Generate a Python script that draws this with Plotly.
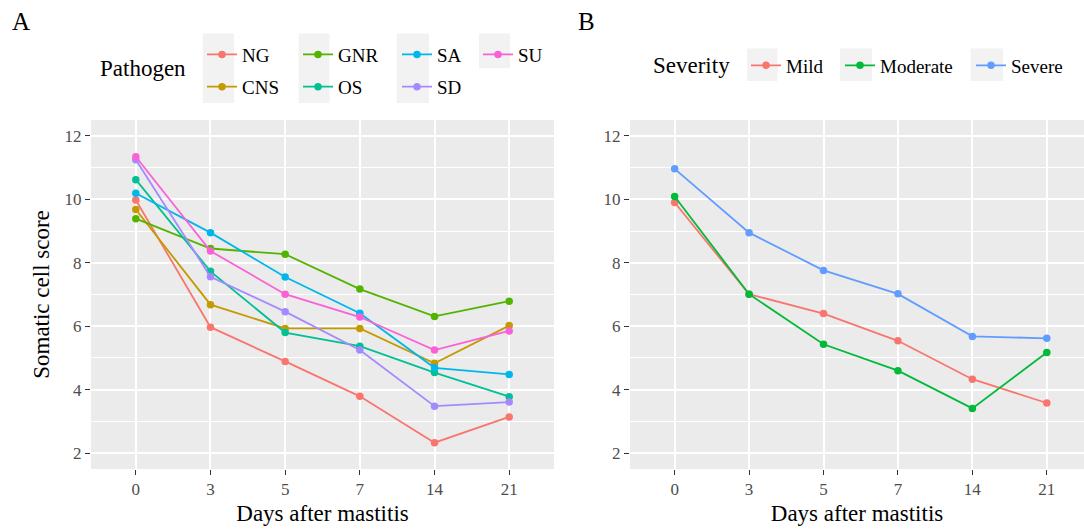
import plotly.graph_objects as go

# ---------------- data ----------------
days = ["0", "3", "5", "7", "14", "21"]

pathogens = ["NG", "CNS", "GNR", "OS", "SA", "SD", "SU"]
ng = [9.98, 5.97, 4.89, 3.79, 2.33, 3.14]
cns = [9.68, 6.68, 5.93, 5.93, 4.83, 6.02]
gnr = [9.39, 8.45, 8.27, 7.17, 6.31, 6.79]
os_ = [10.62, 7.73, 5.80, 5.37, 4.54, 3.78]
sa = [10.19, 8.95, 7.55, 6.41, 4.69, 4.48]
sd = [11.25, 7.56, 6.46, 5.25, 3.48, 3.61]
su = [11.34, 8.37, 7.01, 6.29, 5.25, 5.85]

severities = ["Mild", "Moderate", "Severe"]
mild = [9.90, 7.01, 6.40, 5.54, 4.33, 3.58]
moderate = [10.09, 7.01, 5.43, 4.60, 3.41, 5.17]
severe = [10.96, 8.95, 7.76, 7.02, 5.68, 5.62]

y_ticks = [2, 4, 6, 8, 10, 12]

# ---------------- style ----------------
FONT = "Liberation Serif, Times New Roman, serif"
W, H = 1084, 532
ML, MR, MT, MB = 91, 0, 120, 63
PW = W - ML - MR
PH = H - MT - MB


def xp(px):
    return (px - ML) / PW


def yp(py):
    return (H - MB - py) / PH


path_colors = ["#F8766D", "#C49A00", "#53B400", "#00C094", "#00B6EB", "#A58AFF", "#FB61D7"]
sev_colors = ["#F8766D", "#00BA38", "#619CFF"]
path_series = [ng, cns, gnr, os_, sa, sd, su]
sev_series = [mild, moderate, severe]

# legend slot positions (pixel origin of each legend item)
path_legend_px = [(202, 35.6), (202, 67.8), (298, 35.6), (298, 67.8),
                  (397, 35.6), (397, 67.8), (478, 35.6)]
sev_legend_px = [(746, 46.5), (840, 46.5), (971, 46.5)]

fig = go.Figure()

legend_layouts = {}
for i, (name, vals, col) in enumerate(zip(pathogens, path_series, path_colors)):
    lid = "legend" if i == 0 else f"legend{i + 1}"
    fig.add_trace(go.Scatter(
        x=days, y=vals, name=name, mode="lines+markers",
        line=dict(color=col, width=1.8), marker=dict(color=col, size=7.5),
        xaxis="x", yaxis="y", legend=lid))
    px_, py_ = path_legend_px[i]
    legend_layouts[lid] = (px_, py_)

for j, (name, vals, col) in enumerate(zip(severities, sev_series, sev_colors)):
    k = len(pathogens) + j + 1
    lid = f"legend{k}"
    fig.add_trace(go.Scatter(
        x=days, y=vals, name=name, mode="lines+markers",
        line=dict(color=col, width=1.8), marker=dict(color=col, size=7.5),
        xaxis="x2", yaxis="y2", legend=lid))
    legend_layouts[lid] = sev_legend_px[j]

layout_legends = {}
for lid, (px_, py_) in legend_layouts.items():
    layout_legends[lid] = dict(
        x=xp(px_), y=yp(py_), xanchor="left", yanchor="top",
        bgcolor="rgba(0,0,0,0)", borderwidth=0, orientation="v",
        font=dict(family=FONT, size=19, color="black"))

axis_common = dict(
    showline=False, zeroline=False, ticks="outside", ticklen=5, tickwidth=1.3,
    tickcolor="#333333", gridcolor="white", gridwidth=1.6,
    tickfont=dict(family=FONT, size=17, color="#4D4D4D"),
)

xaxis_common = dict(axis_common, type="category", categoryorder="array", categoryarray=days,
                    title=dict(text="Days after mastitis",
                               font=dict(family=FONT, size=23, color="black"), standoff=6))

yaxis_common = dict(axis_common, range=[1.5, 12.5], tickvals=y_ticks,
                    minor=dict(dtick=1, tick0=0, showgrid=True, gridcolor="white", gridwidth=0.8))

# grey legend key boxes
key_boxes_px = [(202.8, 234, 33.4, 103), (298.6, 329.5, 33.4, 103), (396.6, 429, 33.4, 103),
                (479, 510, 33.4, 68.2), (747, 777.5, 48.4, 81), (840, 872, 48.4, 81),
                (970.6, 1003, 48.4, 81)]
shapes = [dict(type="rect", xref="paper", yref="paper", x0=xp(a), x1=xp(b), y0=yp(d), y1=yp(c),
               fillcolor="#F2F2F2", line=dict(width=0), layer="below")
          for a, b, c, d in key_boxes_px]

annotations = [
    dict(text="A", x=xp(10), y=yp(22), xref="paper", yref="paper", xanchor="left", yanchor="middle",
         showarrow=False, font=dict(family=FONT, size=25, color="black")),
    dict(text="B", x=xp(576), y=yp(22), xref="paper", yref="paper", xanchor="left", yanchor="middle",
         showarrow=False, font=dict(family=FONT, size=25, color="black")),
    dict(text="Pathogen", x=xp(98), y=yp(68), xref="paper", yref="paper", xanchor="left",
         yanchor="middle", showarrow=False, font=dict(family=FONT, size=23, color="black")),
    dict(text="Severity", x=xp(651), y=yp(65), xref="paper", yref="paper", xanchor="left",
         yanchor="middle", showarrow=False, font=dict(family=FONT, size=23, color="black")),
]

fig.update_layout(
    width=W, height=H,
    margin=dict(l=ML, r=MR, t=MT, b=MB, autoexpand=False),
    paper_bgcolor="white", plot_bgcolor="#EBEBEB",
    font=dict(family=FONT, color="black"),
    xaxis=dict(xaxis_common, domain=[0, xp(554)], range=[-0.6, 5.6], anchor="y"),
    yaxis=dict(yaxis_common, domain=[0, 1], anchor="x",
               title=dict(text="Somatic cell score",
                          font=dict(family=FONT, size=23, color="black"), standoff=8)),
    xaxis2=dict(xaxis_common, domain=[xp(630), 1], range=[-0.6, 5.5], anchor="y2"),
    yaxis2=dict(yaxis_common, domain=[0, 1], anchor="x2"),
    shapes=shapes,
    annotations=annotations,
    showlegend=True,
    **layout_legends,
)

fig.write_html("out.html")
